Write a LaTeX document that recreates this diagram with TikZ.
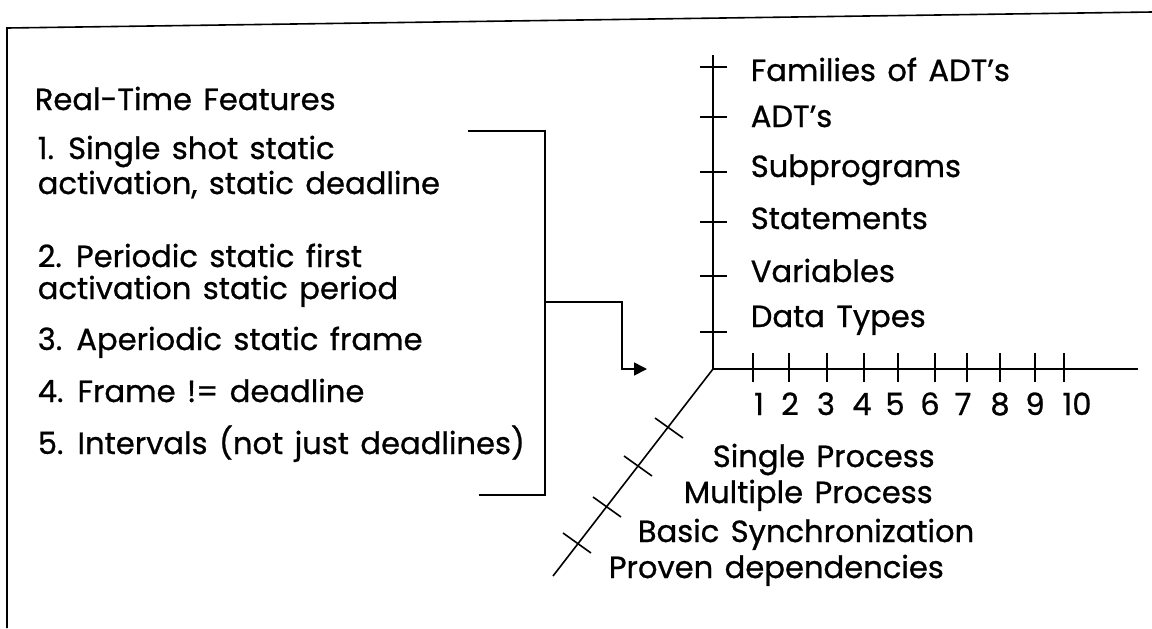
\documentclass[tikz,border=0pt]{standalone}
\usepackage{fontspec}
\setmainfont{Poppins}[FakeBold=0.8,WordSpace=1.4]
\usetikzlibrary{arrows.meta}
\begin{document}
\begin{tikzpicture}[
		x=0.5pt, y=-0.5pt,
		line width=0.8pt,
		txt/.style={anchor=base west, inner sep=0pt, font=\fontsize{15.3}{18}\selectfont},
		num/.style={anchor=base, inner sep=0pt, font=\fontsize{15.3}{18}\selectfont}
	]
	\useasboundingbox (0,0) rectangle (1152,628);
	\draw (1152,12) -- (7,28) -- (7,628);

	% real-time list
	\node[txt] (title) at (34,110) {Real-Time Features};
	\node[txt] (f1a) at (37,159) {1. Single shot static};
	\node[txt] (f1b) at (37,194) {activation, static deadline};
	\node[txt] (f2a) at (37,267) {2. Periodic static first};
	\node[txt] (f2b) at (37,299) {activation static period};
	\node[txt] (f3) at (37,350) {3. Aperiodic static frame};
	\node[txt] (f4) at (37,402) {4. Frame != deadline};
	\node[txt] (f5) at (37,454) {5. Intervals (not just deadlines)};

	\coordinate (O) at (713,369);
	\coordinate (tip) at (647,369);
	\draw (468,131) -- (545,131) -- (545,495) -- (479,495);
	\draw[-{Triangle[length=6.5pt,width=6.5pt]}] (545,302) -- (622,302) |- (tip);

	% axes
	\draw (713,55) -- (O) -- (1138,369);
	\draw (O) -- (553,576);
	\draw (700,67) -- (727,67) (700,117) -- (727,117) (700,172) -- (727,172)
		(700,222) -- (727,222) (700,276) -- (727,276) (700,332) -- (727,332);
	\draw (753,353) -- (753,382) (789,353) -- (789,382) (827,353) -- (827,382)
		(864,353) -- (864,382) (898,353) -- (898,382) (935,353) -- (935,382)
		(967,353) -- (967,382) (1000,353) -- (1000,382) (1035,353) -- (1035,382)
		(1064,353) -- (1064,382);
	\draw (655,418) -- (683,438) (624,456) -- (652,476)
		(593,497) -- (621,517) (563,533) -- (591,553);

	\node[txt] (fam) at (750,81) {Families of ADT's};
	\node[txt] (adt) at (750,127) {ADT's};
	\node[txt] (sub) at (750,177) {Subprograms};
	\node[txt] (stm) at (750,229) {Statements};
	\node[txt] (var) at (750,282) {Variables};
	\node[txt] (dat) at (750,327) {Data Types};

	\node[num] (n1) at (759,415) {1};
	\node[num] (n2) at (790,415) {2};
	\node[num] (n3) at (826,415) {3};
	\node[num] (n4) at (862,415) {4};
	\node[num] (n5) at (895,415) {5};
	\node[num] (n6) at (930,415) {6};
	\node[num] (n7) at (963,415) {7};
	\node[num] (n8) at (1000,415) {8};
	\node[num] (n9) at (1035,415) {9};
	\node[num] (n10) at (1077,415) {10};

	\node[txt] (sp) at (712,467) {Single Process};
	\node[txt] (mp) at (683,503) {Multiple Process};
	\node[txt] (bs) at (637,542) {Basic Synchronization};
	\node[txt] (pd) at (608,578) {Proven dependencies};
\end{tikzpicture}
\end{document}
